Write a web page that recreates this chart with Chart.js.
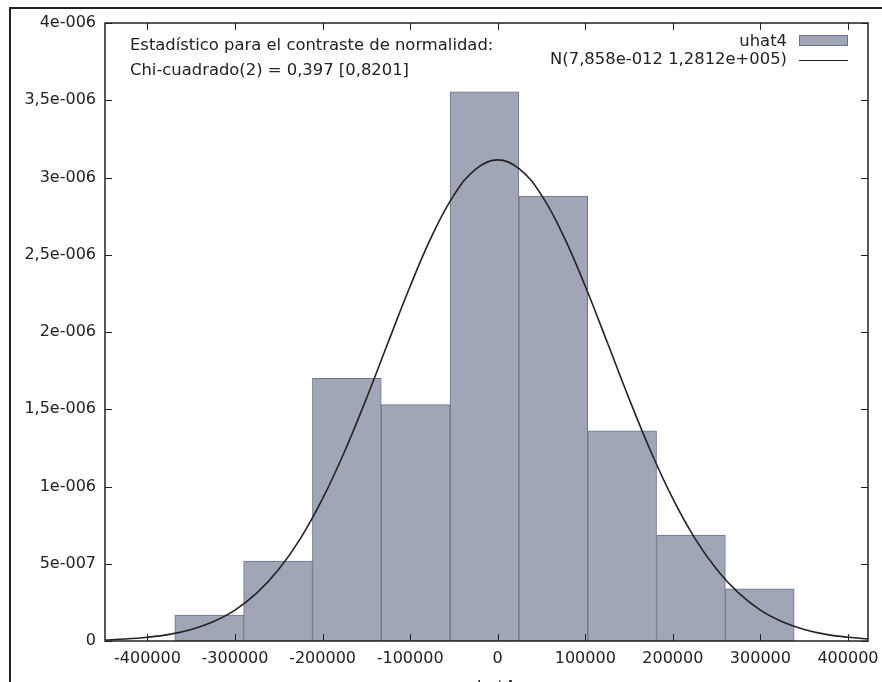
<!DOCTYPE html>
<html>
<head>
<meta charset="utf-8">
<script src="https://cdn.jsdelivr.net/npm/chart.js@4.4.1/dist/chart.umd.min.js"></script>
<style>
  html, body { margin: 0; padding: 0; background: #fff; }
  #wrap { width: 882px; height: 682px; position: relative; }
</style>
</head>
<body>
<div id="wrap"><canvas id="hist"></canvas></div>
<script>
// histogram of uhat4 (bin centres and densities)
const binCenters = [-329500, -250900, -172300, -93700, -15100, 63500, 142100, 220700, 299300];
const density = [1.68e-7, 5.18e-7, 1.70e-6, 1.53e-6, 3.555e-6, 2.88e-6, 1.36e-6, 6.86e-7, 3.37e-7];

// normal curve
const curveX = [-450000, -425000, -400000, -375000, -350000, -325000, -300000, -275000, -250000,
  -225000, -200000, -175000, -150000, -125000, -100000, -75000, -50000, -25000, 0,
  25000, 50000, 75000, 100000, 125000, 150000, 175000, 200000, 225000, 250000,
  275000, 300000, 325000, 350000, 375000, 400000, 425000];
const curveY = [6.5e-9, 1.27e-8, 2.4e-8, 4.3e-8, 7.5e-8, 1.25e-7, 2.0e-7, 3.11e-7, 4.64e-7,
  6.66e-7, 9.21e-7, 1.225e-6, 1.569e-6, 1.935e-6, 2.296e-6, 2.624e-6, 2.886e-6, 3.055e-6, 3.114e-6,
  3.055e-6, 2.886e-6, 2.624e-6, 2.296e-6, 1.935e-6, 1.569e-6, 1.225e-6, 9.21e-7, 6.66e-7, 4.64e-7,
  3.11e-7, 2.0e-7, 1.25e-7, 7.5e-8, 4.3e-8, 2.4e-8, 1.27e-8];

const xTicks = [-400000, -300000, -200000, -100000, 0, 100000, 200000, 300000, 400000];
const xTickLabels = ["-400000", "-300000", "-200000", "-100000", "0", "100000", "200000", "300000", "400000"];
const yTicks = [0, 5e-7, 1e-6, 1.5e-6, 2e-6, 2.5e-6, 3e-6, 3.5e-6, 4e-6];
const yTickLabels = ["0", "5e-007", "1e-006", "1,5e-006", "2e-006", "2,5e-006", "3e-006", "3,5e-006", "4e-006"];

const seriesNames = ["uhat4", "N(7,858e-012 1,2812e+005)"];
const testLines = ["Estadístico para el contraste de normalidad:", "Chi-cuadrado(2) = 0,397 [0,8201]"];
const xTitle = "uhat4";

const barFill = "#a0a6b6";
const barEdge = "#6b7592";
const ink = "#222";
const fam = "'DejaVu Sans', Verdana, sans-serif";

Chart.defaults.font.family = fam;
Chart.defaults.font.size = 16;
Chart.defaults.color = ink;

// frame, inward ticks, legend and text
const decor = {
  id: "decor",
  afterDraw(chart) {
    const { ctx, chartArea: a, scales } = chart;
    ctx.save();
    ctx.strokeStyle = ink;

    ctx.lineWidth = 2;
    ctx.beginPath();
    ctx.moveTo(10, 682);
    ctx.lineTo(10, 8);
    ctx.lineTo(882, 8);
    ctx.stroke();

    ctx.lineWidth = 1.5;
    ctx.strokeRect(a.left, a.top, a.right - a.left, a.bottom - a.top);

    ctx.lineWidth = 1;
    ctx.beginPath();
    xTicks.forEach(v => {
      const px = Math.round(scales.x.getPixelForValue(v)) + 0.5;
      ctx.moveTo(px, a.bottom); ctx.lineTo(px, a.bottom - 7);
      ctx.moveTo(px, a.top); ctx.lineTo(px, a.top + 7);
    });
    yTicks.forEach(v => {
      const py = Math.round(scales.y.getPixelForValue(v)) + 0.5;
      ctx.moveTo(a.left, py); ctx.lineTo(a.left + 7, py);
      ctx.moveTo(a.right, py); ctx.lineTo(a.right - 7, py);
    });
    ctx.stroke();

    ctx.fillStyle = ink;
    ctx.font = "16.4px " + fam;
    ctx.textBaseline = "alphabetic";
    ctx.textAlign = "left";
    ctx.fillText(testLines[0], 130, 50);
    ctx.fillText(testLines[1], 130, 75);

    // legend
    ctx.textAlign = "right";
    ctx.fillText(seriesNames[0], 787, 46);
    ctx.fillText(seriesNames[1], 787, 64);
    ctx.fillStyle = barFill;
    ctx.fillRect(799.5, 35.5, 48, 10);
    ctx.strokeStyle = barEdge;
    ctx.strokeRect(799.5, 35.5, 48, 10);
    ctx.strokeStyle = ink;
    ctx.lineWidth = 1.2;
    ctx.beginPath();
    ctx.moveTo(799, 60.5); ctx.lineTo(848, 60.5);
    ctx.stroke();

    // axis title, cut by the bottom of the picture
    ctx.fillStyle = ink;
    ctx.textAlign = "center";
    ctx.textBaseline = "top";
    ctx.fillText(xTitle, (a.left + a.right) / 2 + 4, 680);
    ctx.restore();
  }
};

new Chart(document.getElementById("hist"), {
  type: "bar",
  data: {
    datasets: [
      {
        type: "bar",
        label: seriesNames[0],
        data: binCenters.map((x, i) => ({ x: x, y: density[i] })),
        backgroundColor: barFill,
        borderColor: barEdge,
        borderWidth: 1,
        borderSkipped: false,
        barPercentage: 1,
        categoryPercentage: 1,
        order: 2
      },
      {
        type: "line",
        label: seriesNames[1],
        data: curveX.map((x, i) => ({ x: x, y: curveY[i] })),
        borderColor: ink,
        borderWidth: 1.6,
        pointRadius: 0,
        tension: 0.4,
        fill: false,
        order: 1
      }
    ]
  },
  options: {
    responsive: true,
    maintainAspectRatio: false,
    animation: false,
    events: [],
    layout: { padding: { left: 0, top: 23, right: 14, bottom: 0 } },
    plugins: { legend: { display: false }, tooltip: { enabled: false } },
    scales: {
      x: {
        type: "linear",
        offset: false,
        min: -448500,
        max: 422900,
        grid: { display: false, drawTicks: false, offset: false },
        border: { display: false },
        afterBuildTicks: s => { s.ticks = xTicks.map(v => ({ value: v })); },
        afterFit: s => { s.height = 41; s.paddingLeft = 0; s.paddingRight = 0; },
        ticks: {
          padding: 8,
          maxRotation: 0,
          autoSkip: false,
          callback: (v, i) => xTickLabels[i]
        }
      },
      y: {
        min: 0,
        max: 4e-6,
        grid: { display: false, drawTicks: false },
        border: { display: false },
        afterBuildTicks: s => { s.ticks = yTicks.map(v => ({ value: v })); },
        afterFit: s => { s.width = 105; s.paddingTop = 0; s.paddingBottom = 0; },
        ticks: {
          padding: 9,
          autoSkip: false,
          callback: (v, i) => yTickLabels[i]
        }
      }
    }
  },
  plugins: [decor]
});
</script>
</body>
</html>
